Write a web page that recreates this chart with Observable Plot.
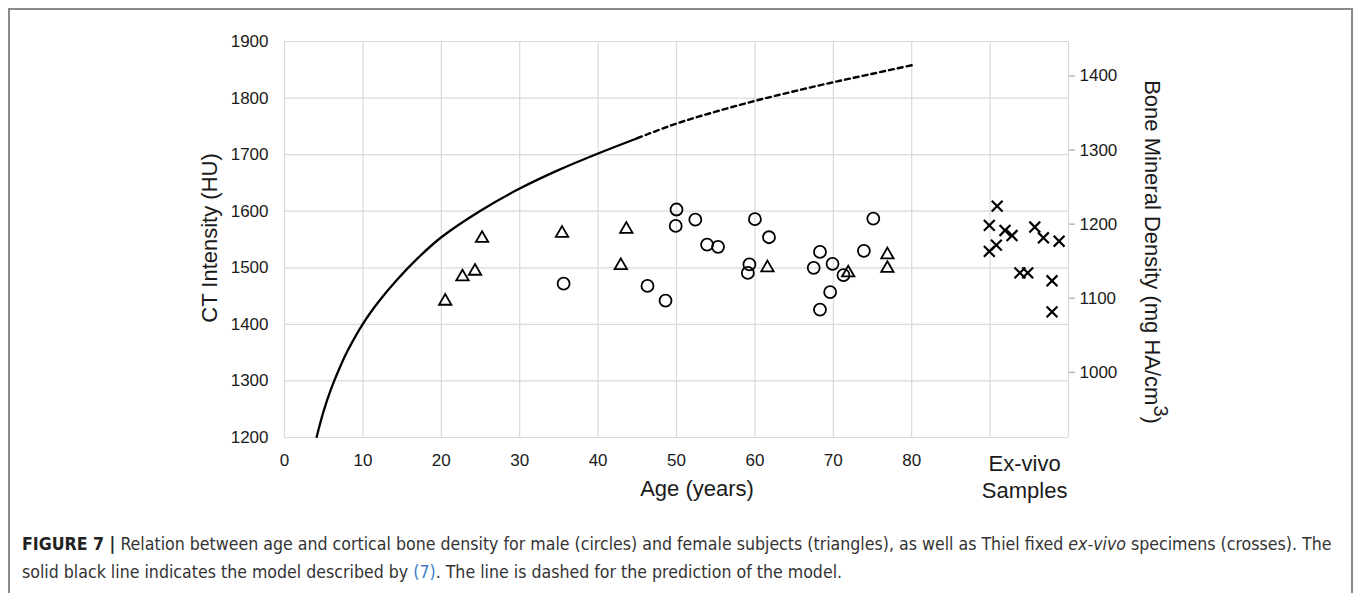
<!DOCTYPE html>
<html>
<head>
<meta charset="utf-8">
<script src="https://cdn.jsdelivr.net/npm/d3@7"></script>
<script src="https://cdn.jsdelivr.net/npm/@observablehq/plot@0.6"></script>
<style>
  html, body { margin: 0; padding: 0; background: #fff; width: 1360px; height: 593px; overflow: hidden; }
  #frame { position: absolute; left: 8px; top: 8px; width: 1345px; height: 640px; border: 2px solid #8a8a8a; box-sizing: border-box; }
  #chart { position: absolute; left: 0; top: 0; }
  #caption { position: absolute; left: 22px; top: 530px; width: 1330px; font-family: "Liberation Sans Narrow", "DejaVu Sans Condensed", sans-serif; font-stretch: condensed; font-size: 17.6px; line-height: 28px; color: #333; white-space: nowrap; }
  #caption b { color: #222; }
  #caption .ref { color: #3d7cc9; }
</style>
</head>
<body>
<div id="frame"></div>
<div id="chart"></div>
<div id="caption"></div>
<script>
// ---- data ----
const femaleAge = [20.5, 22.7, 24.3, 25.2, 35.4, 43.6, 42.9, 61.6, 71.9, 76.9, 76.9];
const femaleHU  = [1441, 1484, 1494, 1552, 1561, 1568, 1504, 1500, 1491, 1523, 1499];

const maleAge = [35.6, 46.3, 48.6, 50.0, 49.9, 52.4, 53.9, 55.3, 60.0, 59.3, 59.1, 61.8, 68.3, 67.5, 69.9, 69.6, 68.3, 71.3, 73.9, 75.1];
const maleHU  = [1472, 1468, 1442, 1603, 1574, 1585, 1541, 1537, 1586, 1506, 1491, 1554, 1528, 1500, 1507, 1457, 1426, 1487, 1530, 1587];

const exVivoPos = [90.9, 89.9, 91.9, 92.8, 90.8, 89.9, 95.7, 96.8, 98.8, 93.8, 94.8, 97.9, 97.9];
const exVivoHU  = [1609, 1575, 1566, 1557, 1540, 1529, 1572, 1553, 1547, 1491, 1491, 1477, 1422];

const modelAge = [4.1, 5, 6, 7, 8, 10, 12, 14.3, 17, 20, 25, 30, 35, 40, 45];
const modelHU  = [1201, 1247, 1288, 1322, 1352, 1401, 1440, 1478, 1517, 1554, 1601, 1640, 1673, 1702, 1729];

const predAge = [45, 50, 55, 60, 65, 70, 75, 80];
const predHU  = [1729, 1755, 1776, 1795, 1812, 1828, 1843, 1858];

const xTicks = [0, 10, 20, 30, 40, 50, 60, 70, 80];
const yTicks = [1200, 1300, 1400, 1500, 1600, 1700, 1800, 1900];
const bmdTicks = [1000, 1100, 1200, 1300, 1400];
// secondary-axis calibration: BMD 1000 ↔ 1315.4 HU, BMD 1400 ↔ 1839 HU
const bmdCal = [1000, 1400];
const huCal = [1315.4, 1839.0];

const exVivoLabel = "Ex-vivo\nSamples";
const xTitle = "Age (years)";
const yTitle = "CT Intensity (HU)";
const y2Title = "Bone Mineral Density (mg HA/cm";

// ---- derived tables ----
const zip = (a, b) => a.map((v, i) => ({x: v, y: b[i]}));
const female = zip(femaleAge, femaleHU);
const male = zip(maleAge, maleHU);
const exVivo = zip(exVivoPos, exVivoHU);
const model = zip(modelAge, modelHU);
const pred = zip(predAge, predHU);
const bmdToHu = d3.scaleLinear().domain(bmdCal).range(huCal);

const gridColor = "#d9d9d9";
const font = "'Liberation Sans', Arial, sans-serif";

const chart = Plot.plot({
  width: 1360,
  height: 520,
  marginLeft: 284,
  marginRight: 292,
  marginTop: 41,
  marginBottom: 83,
  x: {domain: [0, 100]},
  y: {domain: [1200, 1900]},
  style: {fontFamily: font, fontSize: "17px", color: "#1a1a1a", background: "transparent", overflow: "visible"},
  marks: [
    Plot.gridX([...xTicks, 90, 100], {stroke: gridColor, strokeOpacity: 1, strokeWidth: 1.2}),
    Plot.gridY(yTicks, {stroke: gridColor, strokeOpacity: 1, strokeWidth: 1.2}),
    Plot.axisY(yTicks, {anchor: "left", tickSize: 0, tickPadding: 16, label: null, tickFormat: d => String(d)}),
    Plot.axisY(bmdTicks.map(b => bmdToHu(b)), {anchor: "right", tickSize: 6, tickPadding: 5, stroke: "#999", fill: "#1a1a1a", label: null,
      tickFormat: d => String(Math.round(bmdToHu.invert(d)))}),
    Plot.axisX(xTicks, {anchor: "bottom", tickSize: 0, tickPadding: 16, label: null, tickFormat: d => String(d)}),
    Plot.text([exVivoLabel], {x: () => 94.4, y: () => 1200, text: d => d, dy: 15, lineAnchor: "top", lineHeight: 1.2, fontSize: 22, fill: "#1a1a1a"}),
    Plot.line(model, {x: "x", y: "y", curve: "catmull-rom", stroke: "#000", strokeWidth: 2.3}),
    Plot.line(pred, {x: "x", y: "y", curve: "catmull-rom", stroke: "#000", strokeWidth: 2.4, strokeDasharray: "5,4"}),
    Plot.dot(male, {x: "x", y: "y", symbol: "circle", r: 6, stroke: "#000", strokeWidth: 1.8, fill: "none"}),
    Plot.dot(female, {x: "x", y: "y", symbol: "triangle", r: 4.6, stroke: "#000", strokeWidth: 1.8, fill: "none"}),
    Plot.dot(exVivo, {x: "x", y: "y", symbol: "times", r: 5, stroke: "#000", strokeWidth: 2.2, fill: "none"})
  ]
});
document.getElementById("chart").appendChild(chart);

// axis titles
const svg = d3.select(chart);
svg.append("text").attr("transform", "translate(217,238) rotate(-90)")
  .attr("text-anchor", "middle").attr("font-family", font).attr("font-size", 22).attr("fill", "#1a1a1a").text(yTitle);
svg.append("text").attr("x", 697).attr("y", 496)
  .attr("text-anchor", "middle").attr("font-family", font).attr("font-size", 22).attr("fill", "#1a1a1a").text(xTitle);
const t2 = svg.append("text").attr("transform", "translate(1145,252) rotate(90)")
  .attr("text-anchor", "middle").attr("font-family", font).attr("font-size", 22).attr("fill", "#1a1a1a");
t2.append("tspan").text(y2Title);
t2.append("tspan").attr("dy", -9).attr("font-size", 20).text("3");
t2.append("tspan").attr("dy", 9).text(")");

// caption
document.getElementById("caption").innerHTML =
  '<b>FIGURE 7 |</b> Relation between age and cortical bone density for male (circles) and female subjects (triangles), as well as Thiel fixed <i>ex-vivo</i> specimens (crosses). The<br>' +
  'solid black line indicates the model described by <span class="ref">(7)</span>. The line is dashed for the prediction of the model.';
</script>
</body>
</html>
